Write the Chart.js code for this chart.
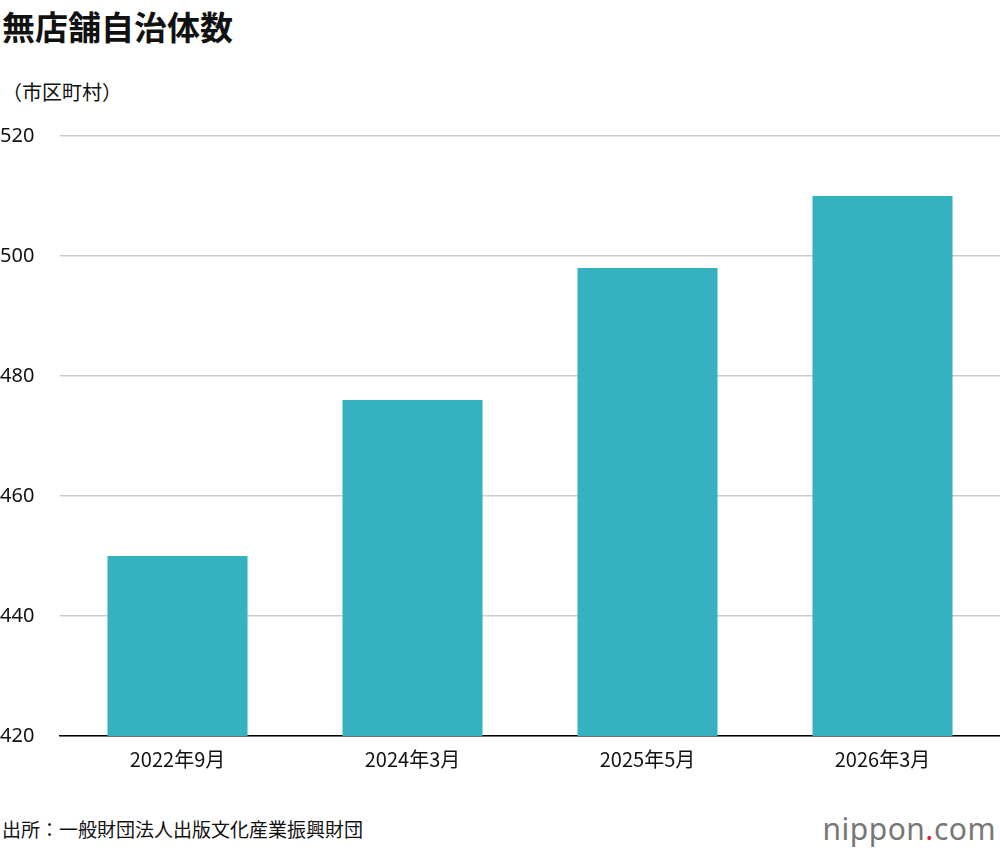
<!DOCTYPE html>
<html><head><meta charset="utf-8">
<script src="https://cdn.jsdelivr.net/npm/chart.js@4"></script>
<style>
  body { margin: 0; width: 1000px; height: 852px; background: #fff; position: relative; font-family: "Noto Sans CJK JP", sans-serif; overflow: hidden; }
  .title { position: absolute; left: 2px; top: 2px; font-size: 33px; font-weight: 700; color: #111; }
  .unit { position: absolute; left: 2px; top: 77px; font-size: 20px; color: #111; }
  .source { position: absolute; left: 2px; top: 815px; font-size: 19px; color: #111; }
  .logo { position: absolute; right: 4px; top: 808px; font-size: 30px; color: #777; font-family: "Noto Sans", sans-serif; letter-spacing: 0.5px; }
  .logo .dot { color: #e0222b; }
  .wrap { position: absolute; left: 0; top: 120px; width: 1000px; height: 660px; }
</style></head>
<body>
<div class="title">無店舗自治体数</div>
<div class="unit">（市区町村）</div>
<div class="wrap"><canvas id="c"></canvas></div>
<div class="source">出所：一般財団法人出版文化産業振興財団</div>
<div class="logo">nippon<span class="dot">.</span>com</div>
<script>
var categories = ['2022年9月', '2024年3月', '2025年5月', '2026年3月'];
var counts = [450, 476, 498, 510];
var yTicks = [420, 440, 460, 480, 500, 520];

new Chart(document.getElementById('c'), {
  type: 'bar',
  data: { labels: categories, datasets: [{ data: counts, backgroundColor: '#35b1bf', categoryPercentage: 1, barPercentage: 0.596 }] },
  options: {
    responsive: true, maintainAspectRatio: false, animation: false,
    layout: { padding: { top: 16, left: 0, right: 0, bottom: 0 } },
    plugins: { legend: { display: false }, tooltip: { enabled: false } },
    scales: {
      x: {
        afterFit: function(s) { s.height = 44; },
        grid: { display: false, drawTicks: false },
        border: { color: '#000', width: 1.5 },
        ticks: { color: '#111', padding: 11, font: { family: 'Noto Sans CJK JP', size: 20 } }
      },
      y: {
        min: 420, max: 520,
        afterFit: function(s) { s.width = 60; },
        afterBuildTicks: function(s) { s.ticks = yTicks.map(function(v) { return { value: v }; }); },
        grid: { color: '#cccccc', lineWidth: 1.5, drawTicks: false },
        border: { display: false },
        ticks: { color: '#111', align: 'center', crossAlign: 'far', padding: 0, font: { family: 'Noto Sans', size: 20 } }
      }
    }
  }
});
</script>
</body></html>
